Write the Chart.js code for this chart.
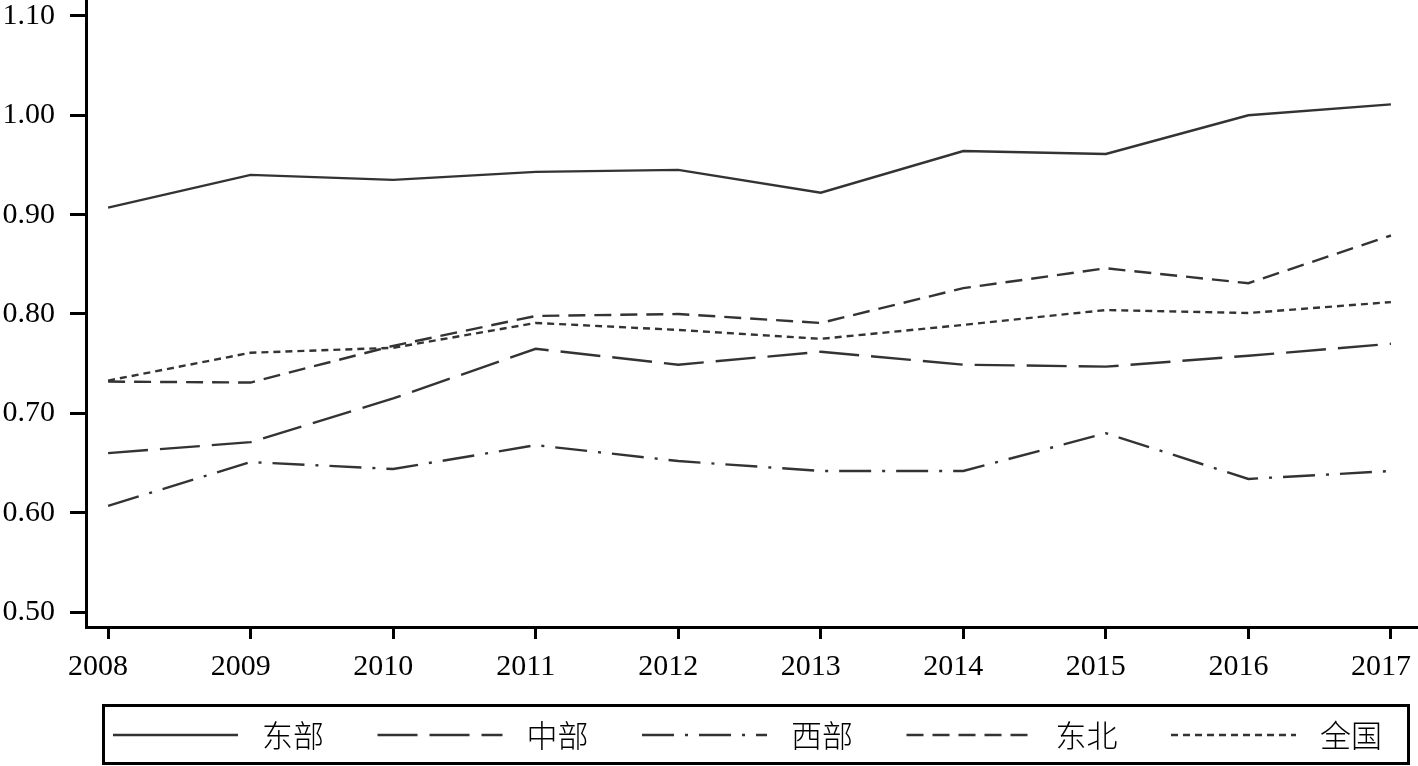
<!DOCTYPE html>
<html lang="zh">
<head>
    <meta charset="UTF-8">
    <title>东部 中部 西部 东北 全国</title>
    <script src="https://cdn.jsdelivr.net/npm/chart.js@4.4.0/dist/chart.umd.min.js"></script>
    <style>
        html, body { margin: 0; padding: 0; background: #fff; }
        #wrap { position: relative; width: 1418px; height: 766px; }
    </style>
</head>
<body>
    <div id="wrap"><canvas id="chart"></canvas></div>

    <script>
        // data
        const years = ['2008', '2009', '2010', '2011', '2012', '2013', '2014', '2015', '2016', '2017'];
        const seriesNames = ['东部', '中部', '西部', '东北', '全国'];
        const eastVals = [0.907, 0.940, 0.935, 0.943, 0.945, 0.922, 0.964, 0.961, 1.000, 1.011];
        const centralVals = [0.660, 0.671, 0.715, 0.765, 0.749, 0.762, 0.749, 0.747, 0.758, 0.770];
        const westVals = [0.607, 0.651, 0.644, 0.668, 0.652, 0.642, 0.642, 0.680, 0.634, 0.642];
        const northeastVals = [0.732, 0.731, 0.768, 0.798, 0.800, 0.791, 0.826, 0.846, 0.831, 0.879];
        const nationalVals = [0.733, 0.761, 0.766, 0.791, 0.784, 0.775, 0.789, 0.804, 0.801, 0.812];
        const yTickValues = [0.50, 0.60, 0.70, 0.80, 0.90, 1.00, 1.10];

        const lineColor = '#333333';
        const dashes = [[], [40, 12], [32, 11, 3, 11], [17, 9], [7, 5]];
        const allVals = [eastVals, centralVals, westVals, northeastVals, nationalVals];

        function toPoints(vals) {
            return vals.map((v, i) => ({ x: i, y: v }));
        }

        // legend drawn inside the canvas, boxed like the original
        const boxLegend = {
            id: 'boxLegend',
            afterDraw(chart) {
                const ctx = chart.ctx;
                ctx.save();
                ctx.strokeStyle = '#000';
                ctx.lineWidth = 3;
                ctx.setLineDash([]);
                ctx.strokeRect(103.5, 705.5, 1305, 58);

                const midY = 735;
                chart.data.datasets.forEach((ds, i) => {
                    const x0 = 113 + i * 264.5;
                    ctx.beginPath();
                    ctx.strokeStyle = lineColor;
                    ctx.lineWidth = 2.4;
                    ctx.setLineDash(ds.borderDash || []);
                    ctx.moveTo(x0, midY);
                    ctx.lineTo(x0 + 125, midY);
                    ctx.stroke();

                    ctx.setLineDash([]);
                    ctx.fillStyle = '#000';
                    ctx.font = '300 31px "Noto Sans CJK SC"';
                    ctx.textBaseline = 'middle';
                    ctx.textAlign = 'left';
                    ctx.fillText(ds.label, x0 + 149, midY);
                });
                ctx.restore();
            }
        };

        const tickFont = { family: '"Liberation Serif", serif', size: 30 };

        function noPad(s) {
            s.paddingTop = 0;
            s.paddingBottom = 0;
            s.paddingLeft = 0;
            s.paddingRight = 0;
        }

        new Chart(document.getElementById('chart'), {
            type: 'line',
            data: {
                datasets: seriesNames.map((name, i) => ({
                    label: name,
                    data: toPoints(allVals[i]),
                    borderColor: lineColor,
                    borderWidth: 2.4,
                    borderDash: dashes[i],
                    pointRadius: 0,
                    tension: 0,
                    fill: false
                }))
            },
            options: {
                responsive: true,
                maintainAspectRatio: false,
                animation: false,
                layout: {
                    autoPadding: false,
                    padding: { left: 0, right: 0, top: 0, bottom: 76 }
                },
                plugins: {
                    legend: { display: false },
                    tooltip: { enabled: false }
                },
                scales: {
                    x: {
                        type: 'linear',
                        min: -0.155,
                        max: 9.19,
                        afterFit: s => { s.height = 63; noPad(s); },
                        afterBuildTicks: s => { s.ticks = years.map((y, i) => ({ value: i })); },
                        ticks: {
                            color: '#000',
                            font: tickFont,
                            padding: 10,
                            labelOffset: -10,
                            maxRotation: 0,
                            autoSkip: false,
                            callback: v => years[v]
                        },
                        grid: {
                            drawOnChartArea: false,
                            drawTicks: true,
                            tickLength: 12,
                            tickWidth: 3,
                            tickColor: '#000'
                        },
                        border: { display: true, color: '#000', width: 3 }
                    },
                    y: {
                        min: 0.485,
                        max: 1.116,
                        afterFit: s => { s.width = 86; noPad(s); },
                        afterBuildTicks: s => { s.ticks = yTickValues.map(v => ({ value: v })); },
                        ticks: {
                            color: '#000',
                            font: tickFont,
                            padding: 15,
                            callback: v => v.toFixed(2)
                        },
                        grid: {
                            drawOnChartArea: false,
                            drawTicks: true,
                            tickLength: 16,
                            tickWidth: 3,
                            tickColor: '#000'
                        },
                        border: { display: true, color: '#000', width: 3 }
                    }
                }
            },
            plugins: [boxLegend]
        });
    </script>
</body>
</html>
